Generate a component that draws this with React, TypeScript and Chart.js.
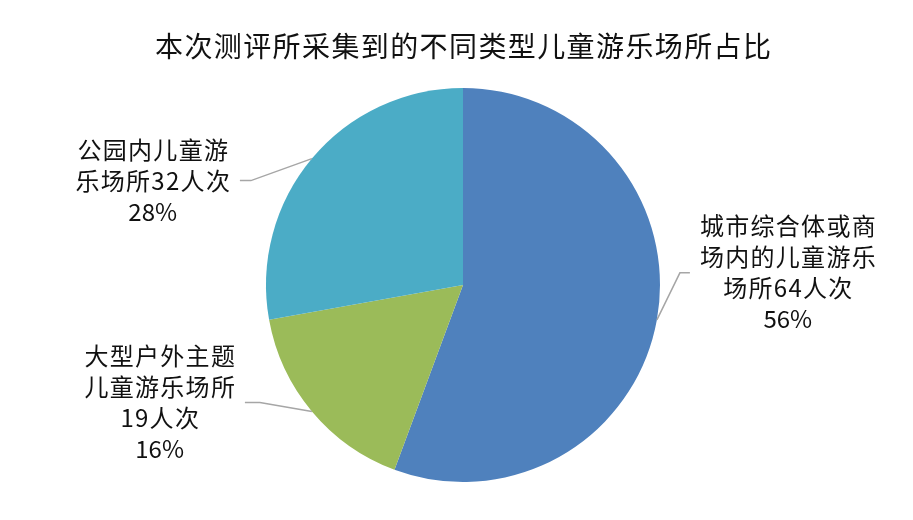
import React, { useEffect, useRef } from "react";
import { Chart, registerables } from "chart.js";

Chart.register(...registerables);

const titleText = "本次测评所采集到的不同类型儿童游乐场所占比";
const categories = [
  "城市综合体或商场内的儿童游乐场所",
  "大型户外主题儿童游乐场所",
  "公园内儿童游乐场所",
];
const visitCounts = [64, 19, 32];
const percentLabels = ["56%", "16%", "28%"];
const labelLines = [
  ["城市综合体或商", "场内的儿童游乐", "场所64人次"],
  ["大型户外主题", "儿童游乐场所", "19人次"],
  ["公园内儿童游", "乐场所32人次"],
];
const sliceColors = ["#4F81BD", "#9BBB59", "#4BACC6"];

// where each data label was dragged to: elbow offset from the slice edge + short tail
const leaderLayout = [
  { dx: 23, dy: -47, tail: 10 },
  { dx: -52, dy: -9, tail: -15 },
  { dx: -61, dy: 22, tail: -11 },
];

const FONT = "'Noto Sans CJK SC', 'Noto Sans', sans-serif";

// canvas letterSpacing adds a trailing gap too, so nudge the centre back by half of it
function spacedText(ctx: any, text: string, x: number, y: number, spacing: number) {
  ctx.letterSpacing = `${spacing}px`;
  ctx.fillText(text, x + spacing / 2, y);
}

const leaderLabels = {
  id: "leaderLabels",
  afterDraw(chart: Chart) {
    const ctx = chart.ctx as any;
    const arcs = chart.getDatasetMeta(0).data as any[];
    ctx.save();

    // title
    ctx.font = `28px ${FONT}`;
    ctx.fillStyle = "#111";
    ctx.textAlign = "center";
    ctx.textBaseline = "middle";
    const area = chart.chartArea;
    spacedText(ctx, titleText, (area.left + area.right) / 2, 46, 1.4);

    arcs.forEach((arc, i) => {
      const p = arc.getProps(["x", "y", "startAngle", "endAngle", "outerRadius"], true);
      const mid = (p.startAngle + p.endAngle) / 2;
      const sx = p.x + Math.cos(mid) * p.outerRadius;
      const sy = p.y + Math.sin(mid) * p.outerRadius;
      const lay = leaderLayout[i];
      const ex = sx + lay.dx;
      const ey = sy + lay.dy;
      const tx = ex + lay.tail;

      ctx.strokeStyle = "#a6a6a6";
      ctx.lineWidth = 1.5;
      ctx.beginPath();
      ctx.moveTo(sx, sy);
      ctx.lineTo(ex, ey);
      ctx.lineTo(tx, ey);
      ctx.stroke();

      const lines = [...labelLines[i], percentLabels[i]];
      ctx.font = `24px ${FONT}`;
      ctx.letterSpacing = "1.3px";
      const w = Math.max(...lines.map((l) => ctx.measureText(l).width)) - 1.3;
      const dir = lay.tail > 0 ? 1 : -1;
      const cx = tx + dir * (10 + w / 2);
      const lh = 31;
      const y0 = ey - ((lines.length - 1) * lh) / 2;
      ctx.fillStyle = "#111";
      lines.forEach((l, k) =>
        spacedText(ctx, l, cx, y0 + k * lh, k === lines.length - 1 ? 0 : 1.3),
      );
    });
    ctx.restore();
  },
};

export default function App(): React.JSX.Element {
  const chartRef = useRef<HTMLCanvasElement | null>(null);

  useEffect(() => {
    document.body.style.margin = "0";
    if (!chartRef.current) return;

    const chart = new Chart(chartRef.current, {
      type: "pie",
      data: {
        labels: categories,
        datasets: [
          {
            data: visitCounts,
            backgroundColor: sliceColors,
            borderWidth: 0,
          },
        ],
      },
      options: {
        responsive: true,
        maintainAspectRatio: false,
        animation: false,
        layout: { padding: { left: 13, right: 0, top: 88, bottom: 38 } },
        plugins: {
          legend: { display: false },
          tooltip: { enabled: false },
          title: { display: false },
        },
      },
      plugins: [leaderLabels],
    });

    return () => {
      chart.destroy();
    };
  }, []);

  return (
    <div style={{ width: 913, height: 520, background: "#fff" }}>
      <canvas ref={chartRef} />
    </div>
  );
}
